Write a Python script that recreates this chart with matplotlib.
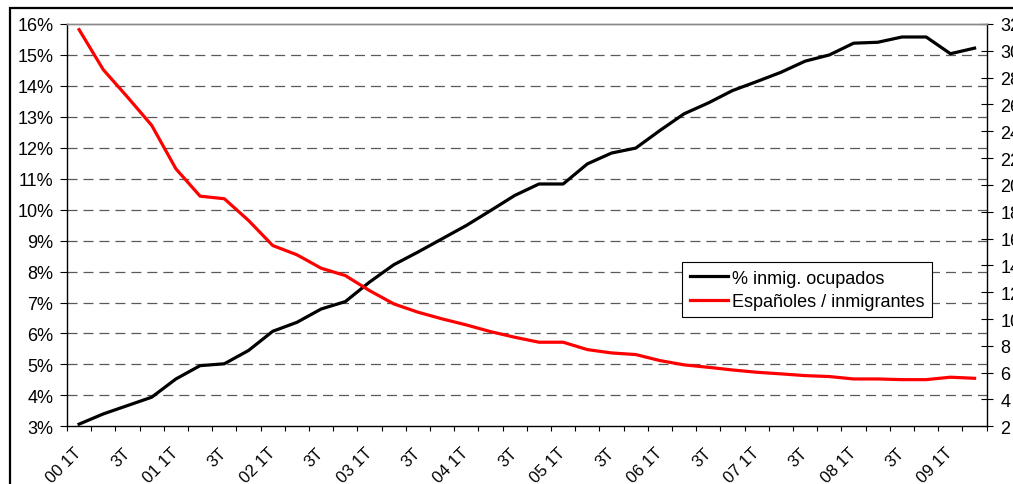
import numpy as np
import matplotlib
matplotlib.use("Agg")
import matplotlib.pyplot as plt
from matplotlib.patches import Rectangle

plt.rcParams['font.family'] = ['Liberation Sans', 'DejaVu Sans']
plt.rcParams['lines.scale_dashes'] = False

# ---- data ----
categories = ["00 1T", "00 2T", "00 3T", "00 4T", "01 1T", "01 2T", "01 3T", "01 4T",
              "02 1T", "02 2T", "02 3T", "02 4T", "03 1T", "03 2T", "03 3T", "03 4T",
              "04 1T", "04 2T", "04 3T", "04 4T", "05 1T", "05 2T", "05 3T", "05 4T",
              "06 1T", "06 2T", "06 3T", "06 4T", "07 1T", "07 2T", "07 3T", "07 4T",
              "08 1T", "08 2T", "08 3T", "08 4T", "09 1T", "09 2T"]

pct_inmig = [3.07, 3.40, 3.67, 3.94, 4.53, 4.96, 5.02, 5.45, 6.07, 6.36,
             6.79, 7.03, 7.66, 8.22, 8.63, 9.06, 9.49, 9.97, 10.46, 10.83,
             10.83, 11.48, 11.83, 11.99, 12.56, 13.10, 13.45, 13.85, 14.14, 14.44,
             14.80, 15.00, 15.38, 15.41, 15.58, 15.58, 15.04, 15.22]

esp_inmig = [31.58, 28.59, 26.55, 24.44, 21.20, 19.16, 18.97, 17.35, 15.48, 14.79,
             13.79, 13.24, 12.12, 11.13, 10.51, 10.01, 9.56, 9.06, 8.64, 8.27,
             8.27, 7.72, 7.47, 7.35, 6.90, 6.58, 6.40, 6.20, 6.03, 5.91,
             5.78, 5.71, 5.53, 5.53, 5.48, 5.48, 5.66, 5.58]

tick_labels = ["00 1T", "3T", "01 1T", "3T", "02 1T", "3T", "03 1T", "3T",
               "04 1T", "3T", "05 1T", "3T", "06 1T", "3T", "07 1T", "3T",
               "08 1T", "3T", "09 1T"]

series_names = ["% inmig. ocupados", "Españoles / inmigrantes"]

# ---- figure ----
W, H = 1013, 485
fig = plt.figure(figsize=(W / 100, H / 100), dpi=100)
L, R, T, B = 67, 986.7, 25, 427.3
ax = fig.add_axes([L / W, 1 - B / H, (R - L) / W, (B - T) / H])
ax2 = ax.twinx()

x = np.arange(len(categories))

# gridlines
for v in range(4, 16):
    ax.axhline(v, color='#5a5a5a', lw=0.9, linestyle=(0, (7.2, 4.3)), zorder=1)

l1, = ax.plot(x, pct_inmig, color='black', lw=2.3, zorder=3)
l2, = ax2.plot(x, esp_inmig, color='#FF0000', lw=2.3, zorder=3)

ax.set_xlim(-0.5, len(categories) - 0.5)
ax.set_ylim(3, 16)
ax2.set_ylim(2, 32)

ax.set_yticks(range(3, 17))
ax.set_yticklabels([f"{v}%" for v in range(3, 17)])
ax2.set_yticks(range(2, 33, 2))
ax2.set_yticklabels([str(v) for v in range(2, 33, 2)])

ax.tick_params(axis='y', direction='out', length=4.8, width=0.8, pad=5,
               labelsize=13, colors='black')
ax2.tick_params(axis='y', direction='inout', length=8.6, width=0.8, pad=5.5,
                labelsize=13, colors='black')

# x ticks: marks at category boundaries, labels at every 2nd category center
ax.set_xticks(np.arange(-0.5, len(categories), 1))
ax.set_xticklabels([])
ax.tick_params(axis='x', which='major', direction='out', length=3.6, width=0.8)
ax.set_xticks(x[::2], minor=True)
ax.set_xticklabels(tick_labels, minor=True)
ax.tick_params(axis='x', which='minor', length=0, pad=17, labelsize=12)
for lab in ax.get_xticklabels(minor=True):
    lab.set_rotation(45)
    lab.set_ha('right')
    lab.set_va('center')
    lab.set_rotation_mode('anchor')

# spines
for a in (ax, ax2):
    a.spines['top'].set_color('#888888')
    a.spines['top'].set_linewidth(1.0)
ax.spines['left'].set_linewidth(1.0)
ax.spines['bottom'].set_linewidth(1.0)
ax.spines['right'].set_visible(False)
ax2.spines['left'].set_visible(False)
ax2.spines['bottom'].set_visible(False)
ax2.spines['right'].set_linewidth(1.0)
ax2.spines['right'].set_color('black')

# legend
leg = ax2.legend([l1, l2], series_names, loc='upper left',
                 bbox_to_anchor=(682 / W, 1 - 263 / H), bbox_transform=fig.transFigure,
                 frameon=True, fancybox=False, framealpha=1, edgecolor='black',
                 borderaxespad=0, handlelength=2.1, handletextpad=0.25,
                 borderpad=0.42, labelspacing=0.35, fontsize=13)
leg.get_frame().set_linewidth(0.8)

# outer chart border (cropped at right and bottom)
fig.patches.append(Rectangle((10 / W, -0.2), 1.2, 1 - 9 / H + 0.2, fill=False,
                             edgecolor='black', lw=1.6, transform=fig.transFigure))

fig.savefig("out.png", dpi=100)
